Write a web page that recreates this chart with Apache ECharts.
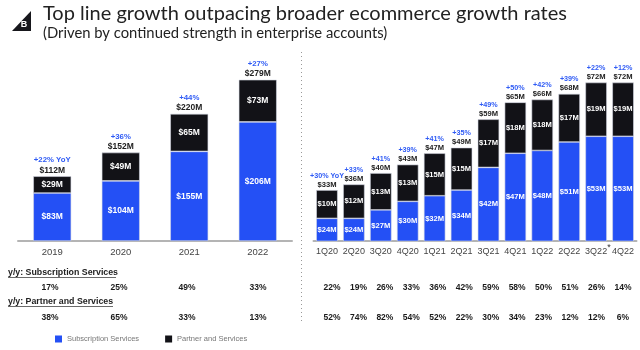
<!doctype html>
<html>

<head>
    <meta charset="utf-8">
    <title>BigCommerce revenue growth</title>
    <script src="https://cdn.jsdelivr.net/npm/echarts@6/dist/echarts.min.js"></script>
</head>

<body style="margin:0;padding:0;background:#fff">
    <div id="tb" style="width:640px;height:350px"></div>
    <script>
        // yearly
        var years = ['2019', '2020', '2021', '2022'];
        var yearSub = [83, 104, 155, 206];
        var yearPartner = [29, 49, 65, 73];
        var yearTotal = ['$112M', '$152M', '$220M', '$279M'];
        var yearGrowth = ['+22% YoY', '+36%', '+44%', '+27%'];
        var yearSubYoy = ['17%', '25%', '49%', '33%'];
        var yearPartnerYoy = ['38%', '65%', '33%', '13%'];

        // quarterly
        var quarters = ['1Q20', '2Q20', '3Q20', '4Q20', '1Q21', '2Q21', '3Q21', '4Q21', '1Q22', '2Q22', '3Q22', '4Q22'];
        var quarterSub = [24, 24, 27, 30, 32, 34, 42, 47, 48, 51, 53, 53];
        var quarterPartner = [10, 12, 13, 13, 15, 15, 17, 18, 18, 17, 19, 19];
        var quarterTotal = ['$33M', '$36M', '$40M', '$43M', '$47M', '$49M', '$59M', '$65M', '$66M', '$68M', '$72M', '$72M'];
        var quarterGrowth = ['+30% YoY', '+33%', '+41%', '+39%', '+41%', '+35%', '+49%', '+50%', '+42%', '+39%', '+22%', '+12%'];
        var quarterSubYoy = ['22%', '19%', '26%', '33%', '36%', '42%', '59%', '58%', '50%', '51%', '26%', '14%'];
        var quarterPartnerYoy = ['52%', '74%', '82%', '54%', '52%', '22%', '30%', '34%', '23%', '12%', '12%', '6%'];

        var BLUE = '#2450f5';
        var BLACK = '#121217';
        var FONT = '"Liberation Sans"';

        var chart = echarts.init(document.getElementById('tb'));

        function xAxis(idx, data, size) {
            return {
                type: 'category',
                gridIndex: idx,
                data: data,
                axisTick: { show: false },
                axisLine: { lineStyle: { color: '#b4b4b4', width: 2 } },
                axisLabel: { interval: 0, color: '#444', fontSize: size, fontFamily: FONT, margin: 6 }
            };
        }

        function yAxis(idx, min, max) {
            return { type: 'value', gridIndex: idx, min: min, max: max, show: false };
        }

        function bars(name, idx, data, color, width, size) {
            return {
                name: name,
                type: 'bar',
                stack: 'rev' + idx,
                xAxisIndex: idx,
                yAxisIndex: idx,
                barWidth: width,
                data: data,
                itemStyle: { color: color, borderColor: '#d5d8e4', borderWidth: 0.6 },
                label: {
                    show: true,
                    position: 'inside',
                    color: '#fff',
                    fontSize: size,
                    fontWeight: 'bold',
                    fontFamily: FONT,
                    formatter: function (p) { return '$' + p.value + 'M'; }
                }
            };
        }

        // invisible series on top of the stack, only carries the growth and total labels
        function tops(idx, data, total, growth, gSize, tSize, lh) {
            return {
                type: 'bar',
                stack: 'rev' + idx,
                xAxisIndex: idx,
                yAxisIndex: idx,
                data: data.map(function () { return 0; }),
                itemStyle: { color: 'transparent' },
                label: {
                    show: true,
                    position: 'top',
                    distance: 1,
                    fontFamily: FONT,
                    formatter: function (p) {
                        return '{g|' + growth[p.dataIndex] + '}\n{t|' + total[p.dataIndex] + '}';
                    },
                    rich: {
                        g: { color: '#2f5bf5', fontSize: gSize, fontWeight: 'bold', lineHeight: lh, align: 'center', fontFamily: FONT },
                        t: { color: '#222', fontSize: tSize, fontWeight: 'bold', lineHeight: lh, align: 'center', fontFamily: FONT }
                    }
                }
            };
        }

        function tableText(x, y, text) {
            return {
                type: 'text',
                x: x,
                y: y,
                style: { text: text, fill: '#1a1a1a', font: 'bold 8.5px ' + FONT, align: 'center', verticalAlign: 'middle' }
            };
        }

        function headText(y, text, w) {
            return [{
                type: 'text',
                x: 8,
                y: y,
                style: { text: text, fill: '#222', font: 'bold 8.8px ' + FONT, align: 'left', verticalAlign: 'middle' }
            }, {
                type: 'line',
                shape: { x1: 8, y1: y + 4.5, x2: 8 + w, y2: y + 4.5 },
                style: { stroke: '#444', lineWidth: 0.8 }
            }];
        }

        var yearX = [50, 119, 187, 258];
        var g = [
            // logo
            { type: 'polygon', shape: { points: [[12, 31], [31, 11], [31, 31]] }, style: { fill: '#17171c' } },
            { type: 'text', x: 24, y: 25, style: { text: 'B', fill: '#fff', font: 'bold 9px ' + FONT, align: 'center', verticalAlign: 'middle' } },
            // separator
            { type: 'line', shape: { x1: 301.5, y1: 52, x2: 301.5, y2: 323 }, style: { stroke: '#999', lineWidth: 1, lineDash: [1, 3] } },
            // asterisk on 3Q22
            { type: 'text', x: 609, y: 248, style: { text: '*', fill: '#333', font: '9px ' + FONT, align: 'center', verticalAlign: 'middle' } }
        ];
        g = g.concat(headText(273, 'y/y: Subscription Services', 108), headText(302, 'y/y: Partner and Services', 105));
        years.forEach(function (y, i) {
            g.push(tableText(yearX[i], 288, yearSubYoy[i]));
            g.push(tableText(yearX[i], 318, yearPartnerYoy[i]));
        });
        quarters.forEach(function (q, i) {
            var x = 332 + 26.45 * i;
            g.push(tableText(x, 288, quarterSubYoy[i]));
            g.push(tableText(x, 318, quarterPartnerYoy[i]));
        });

        chart.setOption({
            animation: false,
            title: [{
                text: 'Top line growth outpacing broader ecommerce growth rates',
                left: 38,
                top: -1,
                textStyle: { fontSize: 20, fontWeight: 'normal', color: '#222', fontFamily: 'Lato' }
            }, {
                text: '(Driven by continued strength in enterprise accounts)',
                left: 38,
                top: 20.5,
                textStyle: { fontSize: 14.8, fontWeight: 'normal', color: '#222', fontFamily: 'Lato' }
            }],
            legend: {
                left: 50,
                top: 330,
                itemWidth: 7,
                itemHeight: 7,
                itemGap: 26,
                icon: 'rect',
                itemStyle: { borderWidth: 0 },
                textStyle: { color: '#777', fontSize: 7.5, fontFamily: FONT },
                data: ['Subscription Services', 'Partner and Services']
            },
            grid: [
                { left: 18, width: 274, top: 41, height: 200 },
                { left: 313.5, width: 323, top: 41, height: 200 }
            ],
            xAxis: [xAxis(0, years, 9.5), xAxis(1, quarters, 9)],
            // quarterly panel starts at 16 like the original slide, so the blue bars are cut off at the bottom
            yAxis: [yAxis(0, 0, 346), yAxis(1, 16, 86.67)],
            series: [
                bars('Subscription Services', 0, yearSub, BLUE, 38, 8.5),
                bars('Partner and Services', 0, yearPartner, BLACK, 38, 8.5),
                tops(0, yearPartner, yearTotal, yearGrowth, 7.8, 8.5, 10),
                bars('Subscription Services', 1, quarterSub, BLUE, 21.5, 7.6),
                bars('Partner and Services', 1, quarterPartner, BLACK, 21.5, 7.6),
                tops(1, quarterPartner, quarterTotal, quarterGrowth, 7.2, 7.6, 9)
            ],
            graphic: g
        });
    </script>
</body>

</html>
